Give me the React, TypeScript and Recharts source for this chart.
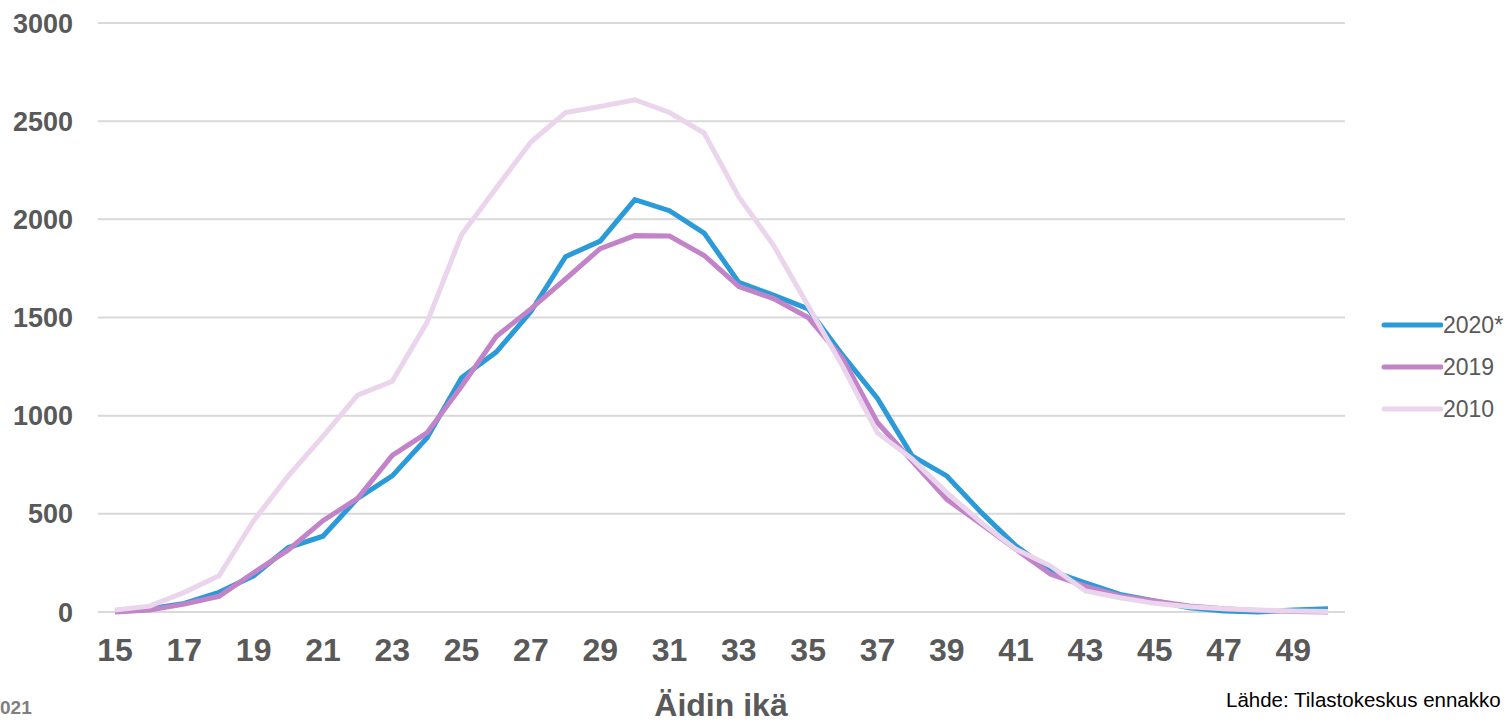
import React from 'react'
import { LineChart, Line, XAxis, YAxis, CartesianGrid } from 'recharts'

// äidin ikä 15..50
const ages = [15, 16, 17, 18, 19, 20, 21, 22, 23, 24, 25, 26, 27, 28, 29, 30, 31, 32, 33, 34, 35, 36, 37, 38, 39, 40, 41, 42, 43, 44, 45, 46, 47, 48, 49, 50]

const births2020 = [5, 17, 44, 100, 184, 328, 386, 579, 693, 886, 1193, 1324, 1530, 1810, 1889, 2100, 2044, 1930, 1679, 1614, 1544, 1307, 1088, 795, 693, 506, 336, 209, 149, 90, 56, 22, 5, 0, 10, 17]
const births2019 = [0, 10, 40, 80, 200, 316, 465, 579, 798, 912, 1149, 1403, 1544, 1696, 1851, 1917, 1915, 1816, 1658, 1596, 1500, 1290, 965, 769, 574, 447, 319, 192, 132, 82, 56, 31, 17, 8, 3, 0]
const births2010 = [10, 30, 100, 184, 465, 693, 895, 1105, 1175, 1474, 1921, 2160, 2394, 2544, 2575, 2609, 2544, 2439, 2114, 1868, 1560, 1250, 912, 780, 608, 455, 319, 234, 107, 73, 44, 27, 17, 10, 5, 2]

const yTicks = [0, 500, 1000, 1500, 2000, 2500, 3000]

const seriesNames = ['2020*', '2019', '2010']
const colours = ['#2A9BD8', '#C283C8', '#EAD5EC']

const data = ages.map((age, i) => ({
  age,
  s2020: births2020[i],
  s2019: births2019[i],
  s2010: births2010[i],
}))

const font = '"Liberation Sans", Arial, sans-serif'
const grey = '#595959'

const LegendBox = () => (
  <div style={{ position: 'absolute', left: 1381, top: 304, fontFamily: font, fontSize: 23, color: grey }}>
    {seriesNames.map((name, i) => (
      <div key={name} style={{ display: 'flex', alignItems: 'center', height: 42 }}>
        <svg width={62} height={10}>
          <line x1={3} y1={5} x2={60} y2={5} stroke={colours[i]} strokeWidth={5} strokeLinecap="round" />
        </svg>
        <span>{name}</span>
      </div>
    ))}
  </div>
)

export default function App() {
  return (
    <div style={{ position: 'absolute', left: 0, top: 0, width: 1508, height: 722, overflow: 'hidden', background: '#fff', fontFamily: font }}>
      <LineChart width={1508} height={722} data={data} margin={{ top: 23, right: 163, bottom: 60, left: 0 }}>
        <CartesianGrid vertical={false} stroke="#D9D9D9" strokeWidth={2} />
        <XAxis
          dataKey="age"
          interval={1}
          axisLine={false}
          tickLine={false}
          tickMargin={20}
          height={50}
          padding={{ left: 17, right: 17 }}
          tick={{ fill: grey, fontSize: 32, fontWeight: 'bold', fontFamily: font }}
        />
        <YAxis
          width={98}
          domain={[0, 3000]}
          ticks={yTicks}
          axisLine={false}
          tickLine={false}
          tickMargin={19}
          tick={{ fill: grey, fontSize: 27, fontWeight: 'bold', fontFamily: font }}
        />
        <Line dataKey="s2020" name={seriesNames[0]} stroke={colours[0]} strokeWidth={5} dot={false} isAnimationActive={false} />
        <Line dataKey="s2019" name={seriesNames[1]} stroke={colours[1]} strokeWidth={5} dot={false} isAnimationActive={false} />
        <Line dataKey="s2010" name={seriesNames[2]} stroke={colours[2]} strokeWidth={5} dot={false} isAnimationActive={false} />
      </LineChart>
      <LegendBox />
      <div style={{ position: 'absolute', left: 0, width: 1442, top: 689, textAlign: 'center', fontSize: 32, fontWeight: 'bold', color: grey, lineHeight: '32px' }}>
        Äidin ikä
      </div>
      <div style={{ position: 'absolute', left: 0, top: 697, fontSize: 19, fontWeight: 'bold', color: '#7F7F7F', lineHeight: '22px' }}>
        021
      </div>
      <div style={{ position: 'absolute', left: 1226, top: 688, fontSize: 20.5, color: '#000', lineHeight: '24px', whiteSpace: 'nowrap' }}>
        Lähde: Tilastokeskus ennakko
      </div>
    </div>
  )
}
